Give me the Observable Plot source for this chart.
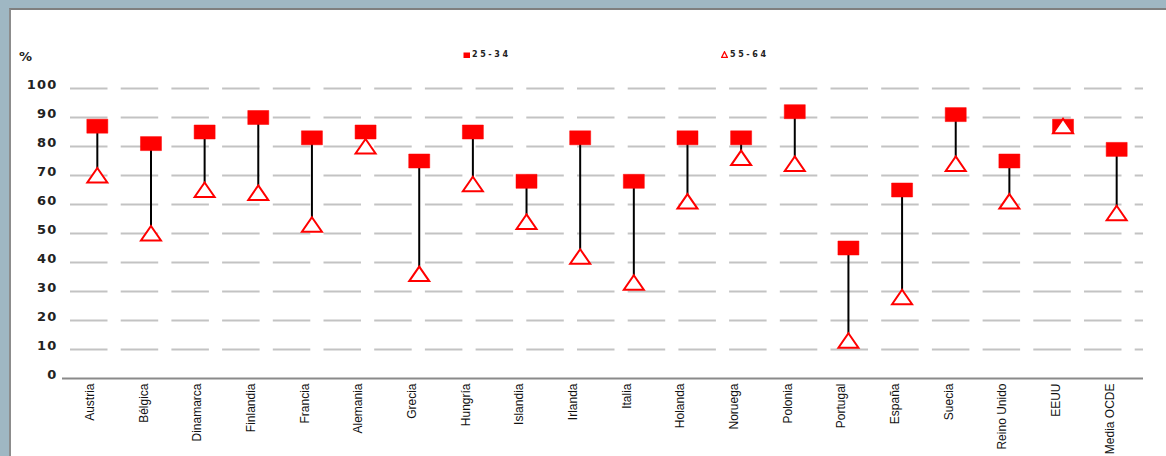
<!DOCTYPE html>
<html>
<head>
<meta charset="utf-8">
<script src="https://cdn.jsdelivr.net/npm/d3@7"></script>
<script src="https://cdn.jsdelivr.net/npm/@observablehq/plot@0.6"></script>
<style>
  html, body { margin: 0; padding: 0; }
  body { width: 1166px; height: 456px; background: #9fb7c3; position: relative; overflow: hidden; font-family: "DejaVu Sans", sans-serif; }
  #panel { position: absolute; left: 9px; top: 8px; width: 1170px; height: 460px; background: #fff; border-top: 2px solid #7f7f7f; border-left: 2px solid #8c8c8c; }
  #chart { position: absolute; left: 0; top: 0; }
  .pct { position: absolute; left: 19px; top: 49px; font: bold 13px "DejaVu Sans", sans-serif; color: #222; }
  .leg { position: absolute; top: 50px; font: bold 8px "DejaVu Sans", sans-serif; letter-spacing: 2.6px; color: #222; }
  .leg svg { vertical-align: -1px; margin-right: 2px; }
  #chart g[aria-label="y-axis tick label"] text { letter-spacing: 1.2px; }
</style>
</head>
<body>
<div id="panel"></div>
<div id="chart"></div>
<div class="pct">%</div>
<div class="leg" style="left:463px"><svg width="7" height="6"><rect x="0.5" y="0.5" width="6.5" height="5.5" fill="#ff0000"/></svg>25-34</div>
<div class="leg" style="left:721px"><svg width="7" height="7"><path d="M3.5,0.8 L6.3,6.3 L0.7,6.3 Z" fill="#fff" stroke="#ff0000" stroke-width="1.3"/></svg>55-64</div>
<script>
const countries = ["Austria","Bélgica","Dinamarca","Finlandia","Francia","Alemania","Grecia","Hungría","Islandia","Irlanda","Italia","Holanda","Noruega","Polonia","Portugal","España","Suecia","Reino Unido","EEUU","Media OCDE"];
const age25_34 = [87,81,85,90,83,85,75,85,68,83,68,83,83,92,45,65,91,75,87,79];
const age55_64 = [70,50,65,64,53,80,36,67,54,42,33,61,76,74,13,28,74,61,87,57];
const yTicks = [0,10,20,30,40,50,60,70,80,90,100];
const gridTicks = [10,20,30,40,50,60,70,80,90,100];

const data = countries.map((c, i) => ({country: c, young: age25_34[i], old: age55_64[i]}));

const squareSymbol = { draw(ctx) { ctx.rect(-10.5, -7, 21, 14); } };
const triangleSymbol = { draw(ctx) { ctx.moveTo(0, -7.5); ctx.lineTo(10, 7); ctx.lineTo(-10, 7); ctx.closePath(); } };

const chart = Plot.plot({
  width: 1166,
  height: 456,
  marginLeft: 70,
  marginRight: 23,
  marginTop: 88,
  marginBottom: 78,
  style: { background: "transparent", overflow: "visible" },
  x: { type: "point", domain: countries, padding: 0.5, align: 0.5, round: false, label: null },
  y: { domain: [0, 100], label: null },
  marks: [
    Plot.ruleY(gridTicks, { stroke: "#c3c3c3", strokeWidth: 2, strokeDasharray: "37.5,13.2" }),
    Plot.ruleY([0], { stroke: "#8a8a8a", strokeWidth: 2, insetLeft: -8 }),
    Plot.axisY({ ticks: yTicks, tickSize: 0, tickPadding: 13, dy: -4, fontSize: 13, fontWeight: "bold", fontFamily: "DejaVu Sans, sans-serif", fill: "#222", label: null }),
    Plot.axisX({ tickSize: 0, tickPadding: 5, tickRotate: -90, fontSize: 12, fontFamily: "Liberation Sans, Arial, sans-serif", fill: "#111", dx: -7, label: null }),
    Plot.ruleX(data, { x: "country", y1: "young", y2: "old", stroke: "#000", strokeWidth: 2 }),
    Plot.dot(data, { x: "country", y: "young", symbol: squareSymbol, fill: "#ff0000", stroke: "#ff0000", strokeWidth: 0.5, r: 5 }),
    Plot.dot(data, { x: "country", y: "old", symbol: triangleSymbol, fill: "#ffffff", stroke: "#ff0000", strokeWidth: 2, r: 5 })
  ]
});
document.getElementById("chart").append(chart);
</script>
</body>
</html>
